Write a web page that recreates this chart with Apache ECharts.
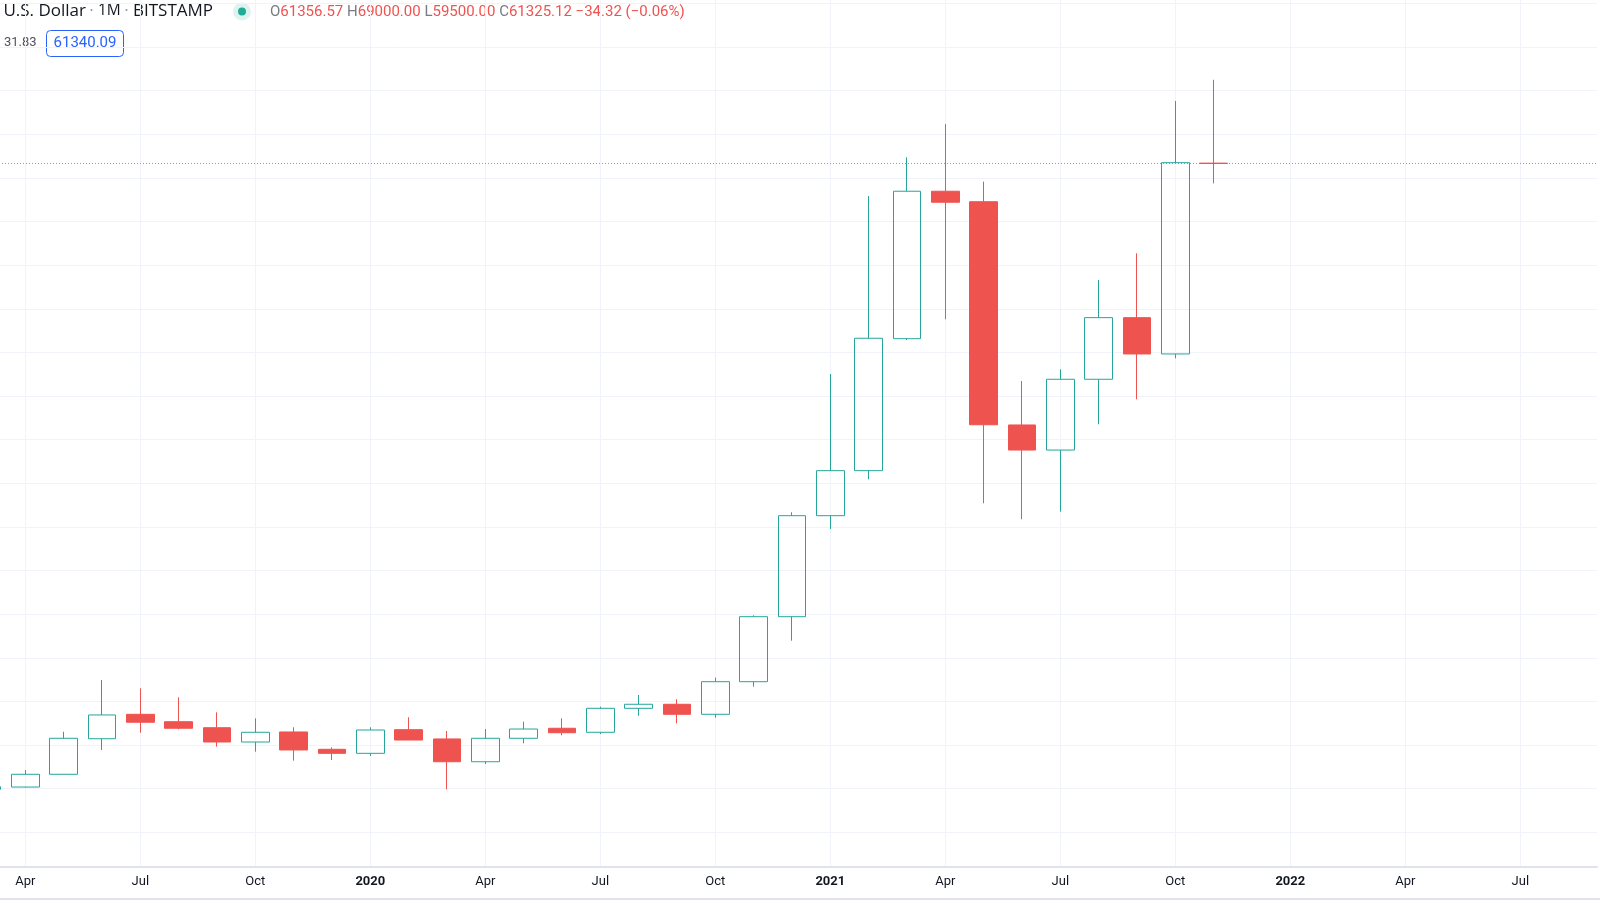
<!DOCTYPE html>
<html>
<head>
<meta charset="utf-8">
<script src="https://cdn.jsdelivr.net/npm/echarts@6/dist/echarts.min.js"></script>
<style>
    html, body { margin: 0; padding: 0; background: #ffffff; }
    #btc-chart { width: 1600px; height: 900px; }
</style>
</head>
<body>
<div id="btc-chart"></div>
<script>

var months = [
    '2019-03', '2019-04', '2019-05', '2019-06', '2019-07', '2019-08', '2019-09', '2019-10', '2019-11', '2019-12',
    '2020-01', '2020-02', '2020-03', '2020-04', '2020-05', '2020-06', '2020-07', '2020-08', '2020-09', '2020-10', '2020-11', '2020-12',
    '2021-01', '2021-02', '2021-03', '2021-04', '2021-05', '2021-06', '2021-07', '2021-08', '2021-09', '2021-10', '2021-11', '2021-12',
    '2022-01', '2022-02', '2022-03', '2022-04', '2022-05', '2022-06', '2022-07', '2022-08', '2022-09'
];

// monthly candles, Mar 2019 .. Nov 2021
var opens  = [3940, 4150, 5320, 8580, 10820, 10140, 9590, 8280, 9200, 7610,
              7240, 9410, 8560, 6470, 8620, 9540, 9170, 11370, 11740, 10820, 13810, 19770,
              29030, 33160, 45260, 58780, 57820, 37350, 35050, 41540, 47190, 43860, 61356.57];
var closes = [4180, 5320, 8620, 10760, 10090, 9540, 8280, 9170, 7550, 7240,
              9380, 8460, 6470, 8620, 9470, 9130, 11370, 11740, 10820, 13810, 19770, 29030,
              33160, 45300, 58780, 57770, 37370, 35050, 41540, 47190, 43860, 61400, 61325.12];
var lows   = [3700, 4100, 5300, 7550, 9130, 9440, 7850, 7390, 6570, 6630,
              7000, 8450, 3940, 6260, 8160, 8890, 9010, 10690, 9990, 10510, 13350, 17570,
              27810, 32370, 45140, 47040, 30170, 28700, 29400, 37410, 39700, 43460, 59500];
var highs  = [4250, 5710, 9220, 13970, 13200, 12380, 11000, 10450, 9630, 7790,
              9630, 10550, 9290, 9470, 10140, 10450, 11520, 12590, 12200, 14180, 19900, 29340,
              42020, 58340, 61890, 64950, 59660, 41380, 42450, 50640, 53090, 67060, 69000];

var lastClose = 61325.12;
var monthNames = { '01': null, '04': 'Apr', '07': 'Jul', '10': 'Oct' };

var candles = [];
for (var i = 0; i < opens.length; i++) {
    candles.push([opens[i], closes[i], lows[i], highs[i]]);
}

function isQuarter(index) {
    return months[index].slice(5) in monthNames;
}

var chart = echarts.init(document.getElementById('btc-chart'));

var gridColor = '#f0f3fa';

function txt(color, size) {
    return { fill: color, fontSize: size, fontFamily: 'Roboto' };
}

// header pieces of the symbol title
function headText(text, x, align, color, size) {
    return {
        type: 'text',
        x: x,
        y: 11,
        style: {
            text: text,
            align: align,
            verticalAlign: 'middle',
            fontSize: size || 17,
            fontFamily: 'Open Sans',
            fill: color
        }
    };
}

chart.setOption({
    animation: false,
    backgroundColor: '#ffffff',
    grid: [
        { left: -13, width: 1610, top: 0, height: 866.7, outerBoundsMode: 'none', containLabel: false },
        { left: -13, width: 1610, top: 3.44, height: 828.86, outerBoundsMode: 'none', containLabel: false }
    ],
    xAxis: [{
        type: 'category',
        gridIndex: 0,
        data: months,
        boundaryGap: false,
        axisLine: { onZero: false, lineStyle: { color: '#e0e3eb', width: 2 } },
        axisTick: { show: false },
        axisLabel: {
            interval: function (index) { return isQuarter(index); },
            margin: 9,
            fontFamily: 'Roboto',
            fontSize: 13,
            color: '#131722',
            formatter: function (value) {
                var m = value.slice(5);
                if (m === '01') {
                    return '{y|' + value.slice(0, 4) + '}';
                }
                return monthNames[m];
            },
            rich: {
                y: { fontFamily: 'Roboto', fontSize: 13, fontWeight: 'bold', color: '#131722' }
            }
        },
        splitLine: {
            show: true,
            interval: function (index) { return isQuarter(index); },
            lineStyle: { color: gridColor, width: 1 }
        }
    }, {
        type: 'value',
        gridIndex: 1,
        min: 0,
        max: 1,
        show: false
    }],
    yAxis: [{
        type: 'value',
        gridIndex: 0,
        min: -3154,
        max: 76316,
        axisLine: { show: false },
        axisTick: { show: false },
        axisLabel: { show: false },
        splitLine: { show: false }
    }, {
        type: 'value',
        gridIndex: 1,
        min: 0,
        max: 76000,
        interval: 4000,
        axisLine: { show: false },
        axisTick: { show: false },
        axisLabel: { show: false },
        splitLine: { lineStyle: { color: gridColor, width: 1 } }
    }],
    series: [{
        name: 'BTCUSD',
        type: 'candlestick',
        xAxisIndex: 0,
        yAxisIndex: 0,
        barWidth: 28,
        data: candles,
        itemStyle: {
            color: 'transparent',
            color0: '#ef5350',
            borderColor: '#26a69a',
            borderColor0: '#ef5350',
            borderWidth: 1
        },
        markLine: {
            silent: true,
            symbol: ['none', 'none'],
            label: { show: false },
            lineStyle: { color: '#ef5350', type: [1, 2], width: 1, opacity: 0.8 },
            data: [{ yAxis: lastClose }]
        }
    }],
    graphic: [
        headText('U.S. Dollar', 86, 'right', '#131722'),
        headText('\u00b7', 91.5, 'center', '#9598a1'),
        headText('1M', 98, 'left', '#131722', 15.5),
        headText('\u00b7', 126.5, 'center', '#9598a1'),
        headText('BITSTAMP', 133, 'left', '#131722'),
        { type: 'circle', shape: { cx: 242, cy: 11.5, r: 9 }, style: { fill: 'rgba(34,171,148,0.15)' } },
        { type: 'circle', shape: { cx: 242, cy: 11.5, r: 4 }, style: { fill: '#22ab94' } },
        {
            type: 'text',
            x: 270,
            y: 12,
            style: {
                text: '{g|O}{r|61356.57 }{g|H}{r|69000.00 }{g|L}{r|59500.00 }{g|C}{r|61325.12 \u221234.32 (\u22120.06%)}',
                verticalAlign: 'middle',
                fontSize: 15,
                fontFamily: 'Roboto',
                fill: '#ef5350',
                rich: { g: txt('#787b86', 15), r: txt('#ef5350', 15) }
            }
        },
        {
            type: 'text',
            x: 4,
            y: 43,
            style: { text: '31.83', verticalAlign: 'middle', fontSize: 13, fontFamily: 'Roboto', fill: '#50535e' }
        },
        {
            type: 'rect',
            shape: { x: 46.5, y: 30.5, width: 77, height: 26, r: 4 },
            style: { fill: '#ffffff', stroke: '#2962ff', lineWidth: 1 }
        },
        {
            type: 'text',
            x: 85,
            y: 43.5,
            style: { text: '61340.09', align: 'center', verticalAlign: 'middle', fontSize: 15, fontFamily: 'Roboto', fill: '#2962ff' }
        },
        { type: 'rect', shape: { x: 0, y: 898, width: 1600, height: 2 }, style: { fill: '#e0e3eb' } }
    ]
});

</script>
</body>
</html>
